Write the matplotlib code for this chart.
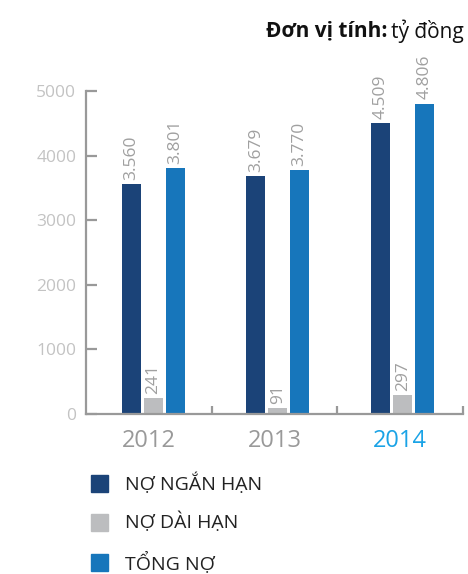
import matplotlib
matplotlib.use("Agg")
import matplotlib.pyplot as plt
from matplotlib.patches import Rectangle

plt.rcParams['font.family'] = ['Open Sans', 'DejaVu Sans']

years = ["2012", "2013", "2014"]
series_names = ["NỢ NGẮN HẠN", "NỢ DÀI HẠN", "TỔNG NỢ"]
short_term = [3560, 3679, 4509]
long_term = [241, 91, 297]
total = [3801, 3770, 4806]
series_values = [short_term, long_term, total]
colors = ["#1b4378", "#bcbdbf", "#1776bb"]
yticks = [0, 1000, 2000, 3000, 4000, 5000]
year_colors = ["#999999", "#999999", "#1aa3e6"]

W, H = 468, 574
fig = plt.figure(figsize=(W / 100, H / 100), dpi=100)
ax = fig.add_axes([86 / W, (H - 414) / H, 377 / W, 323 / H])

bw = 0.152
offsets = [-0.174, 0.0, 0.174]
centers = [0.535, 1.525, 2.52]
for vals, off, col in zip(series_values, offsets, colors):
    xs = [c + off for c in centers]
    ax.bar(xs, vals, width=bw, color=col, zorder=2)
    for x, v in zip(xs, vals):
        ax.annotate(f"{v:,}".replace(",", "."), (x, v), xytext=(0, 3),
                    textcoords="offset points", rotation=90, ha="center",
                    va="bottom", fontsize=12.5, color="#a0a0a0")

ax.set_xlim(0, 3)
ax.set_ylim(0, 5000)
ax.set_yticks(yticks)
ax.set_yticklabels([str(t) for t in yticks])
for s in ["top", "right"]:
    ax.spines[s].set_visible(False)
for s in ["left", "bottom"]:
    ax.spines[s].set_color("#999999")
    ax.spines[s].set_linewidth(1.6)
ax.tick_params(axis="y", direction="in", length=8, width=1.6, color="#999999",
               labelsize=12.5, labelcolor="#c3c3c3", pad=7)
ax.set_xticks([1, 2, 3])
ax.set_xticklabels([])
ax.tick_params(axis="x", which="major", direction="in", length=6, width=1.6, color="#999999")
ax.set_xticks([0.5, 1.5, 2.5], minor=True)
ax.set_xticklabels(years, minor=True)
ax.tick_params(axis="x", which="minor", length=0, labelsize=17, pad=11)
for lbl, c in zip(ax.get_xticklabels(minor=True), year_colors):
    lbl.set_color(c)

# legend
ys = [483, 522, 562]
for y, name, col in zip(ys, series_names, colors):
    fig.patches.append(Rectangle((91 / W, (H - y - 8.5) / H), 17 / W, 17 / H,
                                 transform=fig.transFigure, color=col))
    fig.text(125 / W, (H - y) / H, name, fontsize=14, color="#222222",
             va="center", ha="left")

# unit title
fig.canvas.draw()
r = fig.canvas.get_renderer()
t2 = fig.text(464 / W, (H - 31) / H, "tỷ đồng", fontsize=15, color="#111111",
              ha="right", va="center")
bb = t2.get_window_extent(renderer=r)
fig.text((bb.x0 - 4) / W, (H - 31) / H, "Đơn vị tính:", fontsize=15,
         fontweight="bold", color="#111111", ha="right", va="center")

fig.savefig("out.png", dpi=100)
